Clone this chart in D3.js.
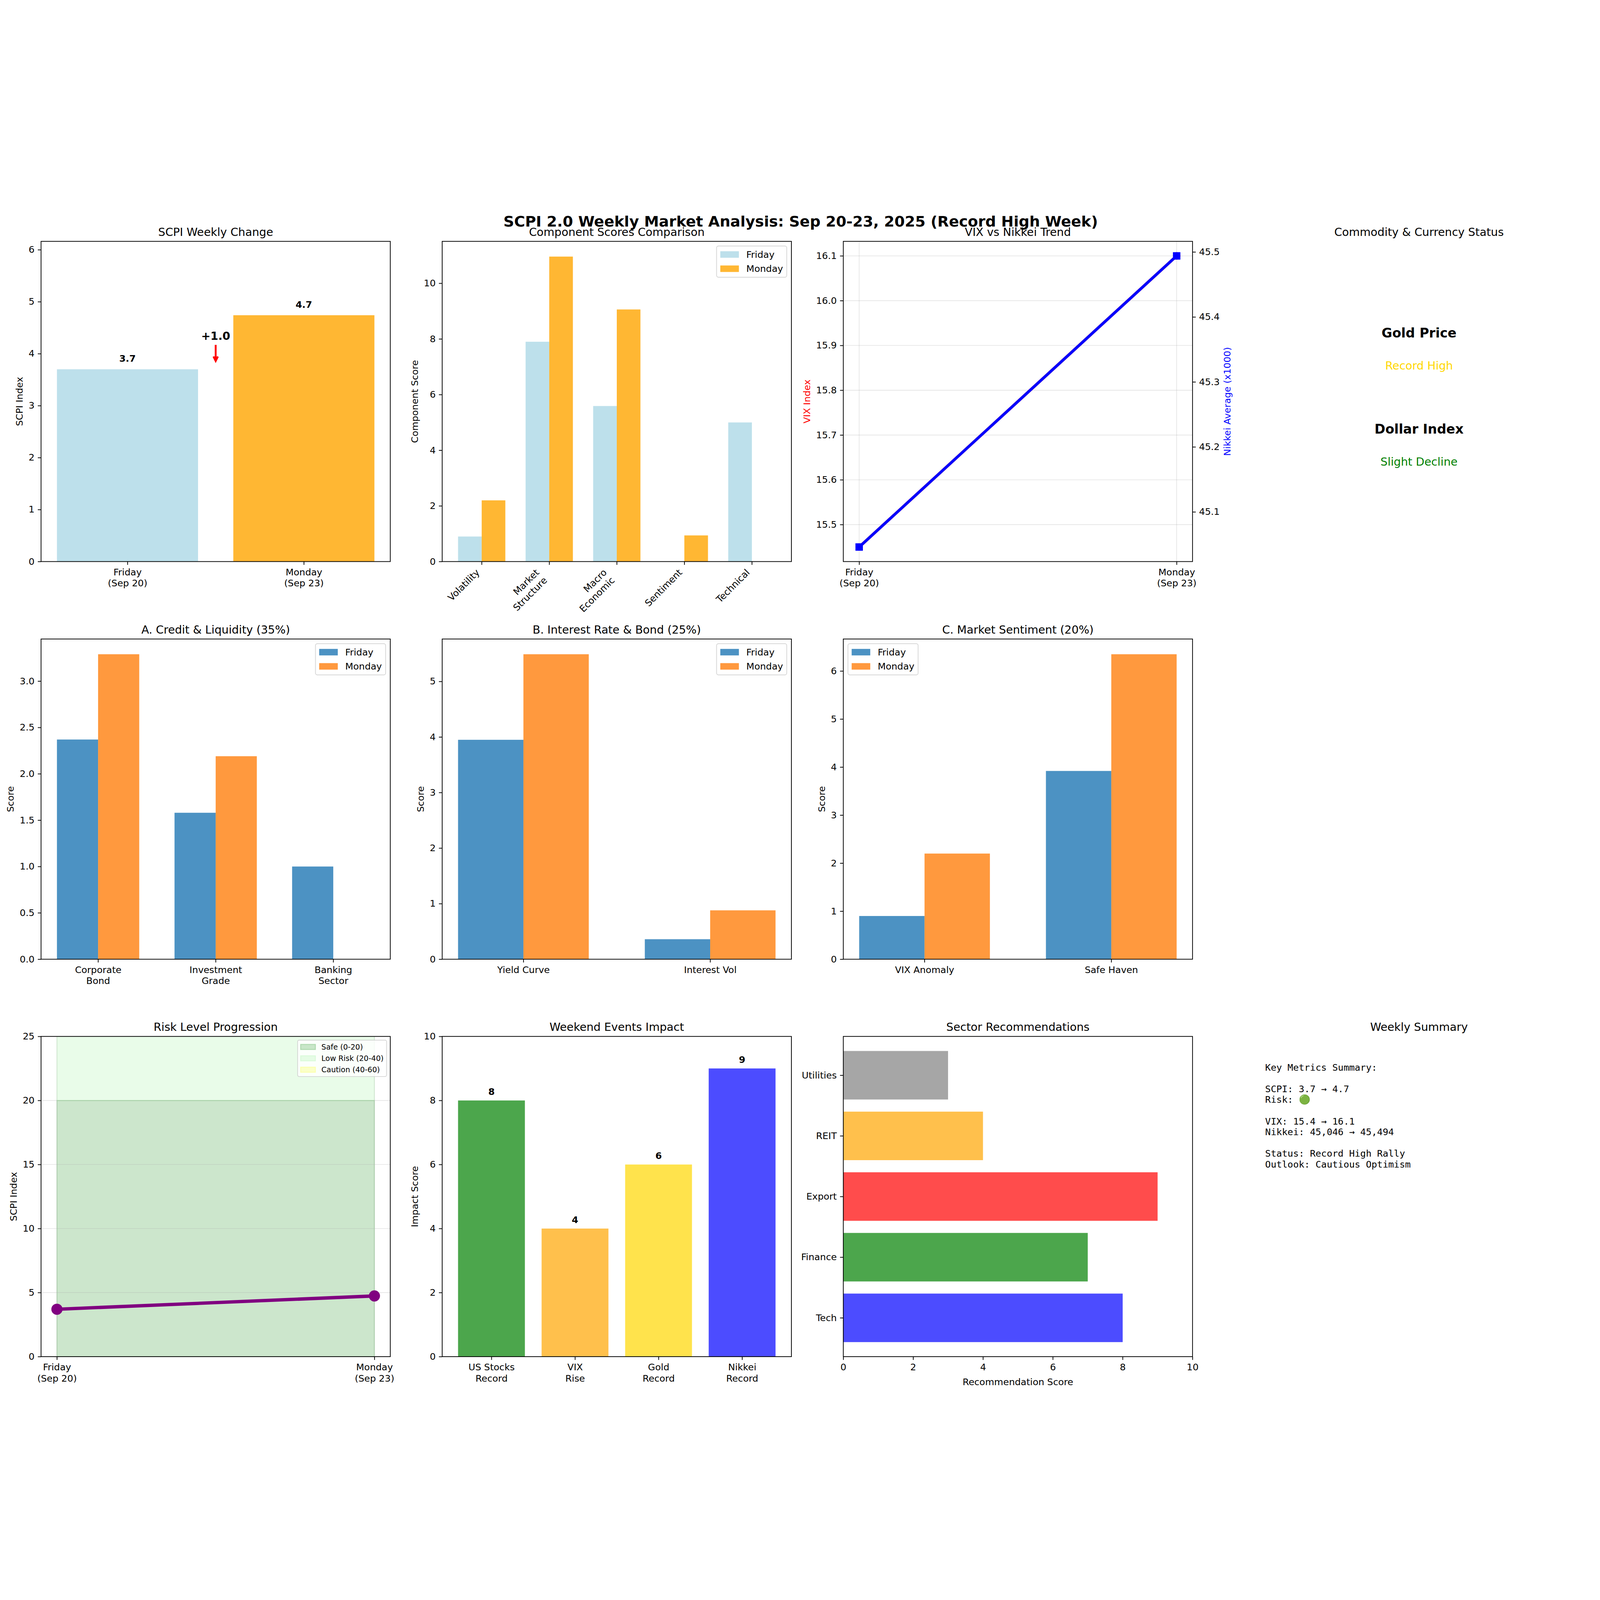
<!DOCTYPE html>
<html>
<head>
<meta charset="utf-8">
<script src="https://cdn.jsdelivr.net/npm/d3@7"></script>
<style>
html, body { margin: 0; padding: 0; background: #fff; overflow: hidden; }
svg { display: block; width: 100vw; height: 100vh; }
</style>
</head>
<body>
<script>

// ---- data ----
var days = ["Friday\n(Sep 20)", "Monday\n(Sep 23)"];
var scpi = [3.70, 4.74];

var compNames = ["Volatility", "Market\nStructure", "Macro\nEconomic", "Sentiment", "Technical"];
var compFri = [0.90, 7.90, 5.59, 0, 5.00];
var compMon = [2.20, 10.96, 9.06, 0.94, 0];

var vix = [15.45, 16.10];
var nikkei = [45.046, 45.494];   // x1000

var creditNames = ["Corporate\nBond", "Investment\nGrade", "Banking\nSector"];
var creditFri = [2.37, 1.58, 1.00];
var creditMon = [3.29, 2.19, 0];

var rateNames = ["Yield Curve", "Interest Vol"];
var rateFri = [3.95, 0.36];
var rateMon = [5.49, 0.88];

var sentNames = ["VIX Anomaly", "Safe Haven"];
var sentFri = [0.90, 3.92];
var sentMon = [2.20, 6.35];

var zoneLabels = ["Safe (0-20)", "Low Risk (20-40)", "Caution (40-60)"];
var zoneLo = [0, 20, 40];
var zoneHi = [20, 40, 60];

var eventNames = ["US Stocks\nRecord", "VIX\nRise", "Gold\nRecord", "Nikkei\nRecord"];
var eventScores = [8, 4, 6, 9];

var sectorNames = ["Tech", "Finance", "Export", "REIT", "Utilities"];
var sectorScores = [8, 7, 9, 4, 3];

var statusItems = ["Gold Price", "Dollar Index"];
var statusValues = ["Record High", "Slight Decline"];

var summaryLines = [
  "Key Metrics Summary:", "",
  "SCPI: 3.7 \u2192 4.7", "Risk: \uD83D\uDFE2", "",
  "VIX: 15.4 \u2192 16.1", "Nikkei: 45,046 \u2192 45,494", "",
  "Status: Record High Rally", "Outlook: Cautious Optimism"
];

// ---- styles ----
var weekColors = ["lightblue", "orange"];
var pairColors = ["#1f77b4", "#ff7f0e"];
var zoneColors = ["green", "lightgreen", "yellow"];
var eventColors = ["green", "orange", "gold", "blue"];
var sectorColors = ["blue", "green", "red", "orange", "gray"];
var statusColors = ["gold", "green"];

// ---- layout (300 dpi, sizes in points converted) ----
var W = 7170, H = 5307;
var PT = 300 / 72;
var FS = 10 * PT;
var FONT = "DejaVu Sans, sans-serif";
var MONO = "DejaVu Sans Mono, monospace";
var TICK = 3.5 * PT, LW = 0.8 * PT;
var colLeft = [184, 1981.5, 3779, 5576.5];
var rowTop = [150, 1932, 3713];
var AW = 1565, AH = 1435;

var svg = d3.select("body").append("svg")
  .attr("viewBox", "0 0 " + W + " " + H)
  .attr("preserveAspectRatio", "xMidYMid meet")
  .style("font-family", FONT);
svg.append("rect").attr("width", W).attr("height", H).attr("fill", "#fff");
var defs = svg.append("defs");

svg.append("text")
  .attr("x", 3588).attr("y", 83)
  .attr("text-anchor", "middle")
  .attr("font-size", 16 * PT).attr("font-weight", "bold")
  .text("SCPI 2.0 Weekly Market Analysis: Sep 20-23, 2025 (Record High Week)");

function makeAxes(c, r, title, id) {
  var g = svg.append("g").attr("transform", "translate(" + colLeft[c] + "," + rowTop[r] + ")");
  defs.append("clipPath").attr("id", id)
    .append("rect").attr("width", AW).attr("height", AH);
  var plot = g.append("g").attr("clip-path", "url(#" + id + ")");
  g.append("text")
    .attr("x", AW / 2).attr("y", -6 * PT)
    .attr("text-anchor", "middle")
    .attr("font-size", 12 * PT)
    .text(title);
  return {g: g, plot: plot};
}

function spines(ax) {
  ax.g.append("rect")
    .attr("width", AW).attr("height", AH)
    .attr("fill", "none").attr("stroke", "#000").attr("stroke-width", LW);
}

function styleAxis(a) {
  a.attr("font-family", FONT).attr("font-size", FS);
  a.select(".domain").remove();
  a.selectAll(".tick line").attr("stroke", "#000").attr("stroke-width", LW);
  a.selectAll(".tick text").attr("fill", "#000");
}

function splitLines(node) {
  var t = d3.select(node);
  var lines = t.text().split("\n");
  t.text("").attr("dy", null);
  lines.forEach(function(l, k) {
    t.append("tspan").attr("x", 0).attr("dy", k === 0 ? "0.78em" : "1.2em").text(l);
  });
}

function xAxis(ax, scale, vals, fmt) {
  var a = ax.g.append("g").attr("transform", "translate(0," + AH + ")");
  a.call(d3.axisBottom(scale).tickValues(vals).tickSize(TICK).tickPadding(TICK).tickFormat(fmt));
  styleAxis(a);
  a.selectAll(".tick text").each(function() { splitLines(this); });
  return a;
}

function yAxis(ax, scale, vals, fmt, right) {
  var a = ax.g.append("g");
  if (right) a.attr("transform", "translate(" + AW + ",0)");
  var gen = right ? d3.axisRight(scale) : d3.axisLeft(scale);
  a.call(gen.tickValues(vals).tickSize(TICK).tickPadding(TICK).tickFormat(fmt));
  styleAxis(a);
  return a;
}

function yLabel(ax, axisG, text, color, right) {
  var w = 0;
  axisG.selectAll(".tick text").each(function() { w = Math.max(w, this.getComputedTextLength()); });
  var off = 2 * TICK + w + 4 * PT;
  var x = right ? AW + off + 0.76 * FS : -(off + 0.24 * FS);
  ax.g.append("text")
    .attr("transform", "translate(" + x + "," + (AH / 2) + ") rotate(-90)")
    .attr("text-anchor", "middle")
    .attr("font-size", FS)
    .attr("fill", color || "#000")
    .text(text);
}

function xLabel(ax, text) {
  ax.g.append("text")
    .attr("x", AW / 2)
    .attr("y", AH + 2 * TICK + 1.17 * FS + 4 * PT + 0.78 * FS)
    .attr("text-anchor", "middle")
    .attr("font-size", FS)
    .text(text);
}

function grid(ax, x, xv, y, yv) {
  var gg = ax.plot.append("g")
    .attr("stroke", "#b0b0b0").attr("stroke-opacity", 0.3).attr("stroke-width", LW);
  gg.selectAll(".gx").data(xv).join("line")
    .attr("x1", function(d) { return x(d); }).attr("x2", function(d) { return x(d); })
    .attr("y1", 0).attr("y2", AH);
  gg.selectAll(".gy").data(yv).join("line")
    .attr("y1", function(d) { return y(d); }).attr("y2", function(d) { return y(d); })
    .attr("x1", 0).attr("x2", AW);
}

// items: {label, fill, op, edge}
function legend(ax, items, loc, fsz) {
  var bp = 0.4 * fsz, pad = 0.5 * fsz, hl = 2 * fsz, htp = 0.8 * fsz, ls = 0.5 * fsz, rowH = 1.03 * fsz;
  var lg = ax.g.append("g");
  var frame = lg.append("rect");
  var texts = [];
  items.forEach(function(it, i) {
    var cy = bp + i * (rowH + ls) + rowH / 2;
    var r = lg.append("rect")
      .attr("x", bp).attr("y", cy - 0.35 * fsz)
      .attr("width", hl).attr("height", 0.7 * fsz)
      .attr("fill", it.fill).attr("fill-opacity", it.op);
    if (it.edge) r.attr("stroke", it.fill).attr("stroke-opacity", it.op).attr("stroke-width", PT);
    texts.push(lg.append("text")
      .attr("x", bp + hl + htp).attr("y", cy + 0.36 * fsz)
      .attr("font-size", fsz).text(it.label));
  });
  var tw = d3.max(texts, function(t) { return t.node().getComputedTextLength(); });
  var bw = 2 * bp + hl + htp + tw;
  var bh = 2 * bp + items.length * rowH + (items.length - 1) * ls;
  frame.attr("width", bw).attr("height", bh)
    .attr("rx", 0.2 * fsz).attr("ry", 0.2 * fsz)
    .attr("fill", "#fff").attr("fill-opacity", 0.8)
    .attr("stroke", "#cccccc").attr("stroke-opacity", 0.8).attr("stroke-width", LW);
  var lx = loc === "left" ? pad : AW - pad - bw;
  lg.attr("transform", "translate(" + lx + "," + pad + ")");
}

function pairItems(colors) {
  return [{label: "Friday", fill: colors[0], op: 0.8}, {label: "Monday", fill: colors[1], op: 0.8}];
}

// grouped Friday/Monday bars, width 0.35, matplotlib-style 5% margins
function grouped(ax, n, fri, mon, colors) {
  var bw = 0.35;
  var lo = -bw, hi = n - 1 + bw, m = (hi - lo) * 0.05;
  var x = d3.scaleLinear().domain([lo - m, hi + m]).range([0, AW]);
  var y = d3.scaleLinear().domain([0, d3.max(fri.concat(mon)) * 1.05]).range([AH, 0]);
  [fri, mon].forEach(function(vals, s) {
    ax.plot.append("g").selectAll("rect").data(vals).join("rect")
      .attr("x", function(d, i) { return x(i + (s === 0 ? -bw : 0)); })
      .attr("width", x(bw) - x(0))
      .attr("y", function(d) { return y(d); })
      .attr("height", function(d) { return AH - y(d); })
      .attr("fill", colors[s]).attr("fill-opacity", 0.8);
  });
  return {x: x, y: y};
}

function nameFmt(names) { return function(d) { return names[d]; }; }

// ================= Row 1 =================

// SCPI Weekly Change
(function() {
  var ax = makeAxes(0, 0, "SCPI Weekly Change", "c1");
  var m = 1.8 * 0.05;
  var x = d3.scaleLinear().domain([-0.4 - m, 1.4 + m]).range([0, AW]);
  var y = d3.scaleLinear().domain([0, d3.max(scpi) * 1.3]).range([AH, 0]);
  ax.plot.selectAll("rect").data(scpi).join("rect")
    .attr("x", function(d, i) { return x(i - 0.4); })
    .attr("width", x(0.4) - x(-0.4))
    .attr("y", function(d) { return y(d); })
    .attr("height", function(d) { return AH - y(d); })
    .attr("fill", function(d, i) { return weekColors[i]; })
    .attr("fill-opacity", 0.8);
  ax.g.selectAll(".vlab").data(scpi).join("text")
    .attr("x", function(d, i) { return x(i); })
    .attr("y", function(d) { return y(d + 0.1) - 0.24 * FS; })
    .attr("text-anchor", "middle").attr("font-size", FS).attr("font-weight", "bold")
    .text(function(d) { return d.toFixed(1); });

  // change annotation
  var change = scpi[1] - scpi[0];
  var mid = (scpi[0] + scpi[1]) / 2;
  ax.g.append("text")
    .attr("x", x(0.5)).attr("y", y(mid + 0.05))
    .attr("text-anchor", "middle").attr("font-size", 12 * PT).attr("font-weight", "bold")
    .text("+" + change.toFixed(1));
  var tipY = y(mid - 0.36), tailY = y(mid - 0.05), ax5 = x(0.5);
  ax.g.append("line")
    .attr("x1", ax5).attr("x2", ax5).attr("y1", tailY).attr("y2", tipY - 2)
    .attr("stroke", "red").attr("stroke-width", 2 * PT);
  ax.g.append("path")
    .attr("d", "M" + (ax5 - 10) + "," + (tipY - 20) + "L" + ax5 + "," + tipY + "L" + (ax5 + 10) + "," + (tipY - 20))
    .attr("fill", "none").attr("stroke", "red").attr("stroke-width", 2 * PT)
    .attr("stroke-linejoin", "miter");

  spines(ax);
  xAxis(ax, x, [0, 1], nameFmt(days));
  var ya = yAxis(ax, y, d3.range(0, 7), d3.format("d"));
  yLabel(ax, ya, "SCPI Index");
})();

// Component Scores Comparison
(function() {
  var ax = makeAxes(1, 0, "Component Scores Comparison", "c2");
  var s = grouped(ax, compNames.length, compFri, compMon, weekColors);
  spines(ax);
  var a = ax.g.append("g").attr("transform", "translate(0," + AH + ")");
  a.call(d3.axisBottom(s.x).tickValues(d3.range(compNames.length)).tickSize(TICK).tickFormat(function() { return ""; }));
  styleAxis(a);
  var asc = 0.76 * FS, desc = 0.24 * FS, lh = 1.2 * FS, c = Math.SQRT1_2;
  compNames.forEach(function(nm, i) {
    var lines = nm.split("\n");
    var tx = s.x(i) - c * ((lines.length - 1) * lh + desc);
    var ty = AH + 2 * TICK + c * asc;
    var t = ax.g.append("text")
      .attr("transform", "translate(" + tx + "," + ty + ") rotate(-45)")
      .attr("text-anchor", "end").attr("font-size", FS);
    lines.forEach(function(l, k) { t.append("tspan").attr("x", 0).attr("y", k * lh).text(l); });
  });
  var ya = yAxis(ax, s.y, d3.range(0, 11, 2), d3.format("d"));
  yLabel(ax, ya, "Component Score");
  legend(ax, pairItems(weekColors), "right", FS);
})();

// VIX vs Nikkei Trend
(function() {
  var ax = makeAxes(2, 0, "VIX vs Nikkei Trend", "c3");
  var x = d3.scaleLinear().domain([-0.05, 1.05]).range([0, AW]);
  var vm = (vix[1] - vix[0]) * 0.05, nm = (nikkei[1] - nikkei[0]) * 0.05;
  var y1 = d3.scaleLinear().domain([d3.min(vix) - vm, d3.max(vix) + vm]).range([AH, 0]);
  var y2 = d3.scaleLinear().domain([d3.min(nikkei) - nm, d3.max(nikkei) + nm]).range([AH, 0]);
  var vixTicks = [15.5, 15.6, 15.7, 15.8, 15.9, 16.0, 16.1];
  var nkTicks = [45.1, 45.2, 45.3, 45.4, 45.5];
  grid(ax, x, [0, 1], y1, vixTicks);

  var l1 = d3.line().x(function(d, i) { return x(i); }).y(function(d) { return y1(d); });
  ax.g.append("path").attr("d", l1(vix)).attr("fill", "none")
    .attr("stroke", "red").attr("stroke-width", 3 * PT);
  ax.g.selectAll(".vm").data(vix).join("circle")
    .attr("cx", function(d, i) { return x(i); }).attr("cy", function(d) { return y1(d); })
    .attr("r", 4 * PT).attr("fill", "red");

  var l2 = d3.line().x(function(d, i) { return x(i); }).y(function(d) { return y2(d); });
  ax.g.append("path").attr("d", l2(nikkei)).attr("fill", "none")
    .attr("stroke", "blue").attr("stroke-width", 3 * PT);
  ax.g.selectAll(".nm").data(nikkei).join("rect")
    .attr("x", function(d, i) { return x(i) - 4 * PT; })
    .attr("y", function(d) { return y2(d) - 4 * PT; })
    .attr("width", 8 * PT).attr("height", 8 * PT).attr("fill", "blue");

  spines(ax);
  xAxis(ax, x, [0, 1], nameFmt(days));
  var ya = yAxis(ax, y1, vixTicks, d3.format(".1f"));
  yLabel(ax, ya, "VIX Index", "red");
  var yb = yAxis(ax, y2, nkTicks, d3.format(".1f"), true);
  yLabel(ax, yb, "Nikkei Average (x1000)", "blue", true);
})();

// Commodity & Currency Status
(function() {
  var ax = makeAxes(3, 0, "Commodity & Currency Status", "c4");
  var fy = [0.7, 0.4];
  statusItems.forEach(function(it, i) {
    ax.g.append("text")
      .attr("x", AW / 2).attr("y", AH * (1 - fy[i]))
      .attr("text-anchor", "middle").attr("font-size", 14 * PT).attr("font-weight", "bold")
      .text(it);
    ax.g.append("text")
      .attr("x", AW / 2).attr("y", AH * (1 - fy[i] + 0.1))
      .attr("text-anchor", "middle").attr("font-size", 12 * PT)
      .attr("fill", statusColors[i])
      .text(statusValues[i]);
  });
})();

// ================= Row 2 =================

function subPanel(c, title, id, names, fri, mon, ticks, fmt, loc) {
  var ax = makeAxes(c, 1, title, id);
  var s = grouped(ax, names.length, fri, mon, pairColors);
  spines(ax);
  xAxis(ax, s.x, d3.range(names.length), nameFmt(names));
  var ya = yAxis(ax, s.y, ticks, fmt);
  yLabel(ax, ya, "Score");
  legend(ax, pairItems(pairColors), loc, FS);
}

subPanel(0, "A. Credit & Liquidity (35%)", "c5", creditNames, creditFri, creditMon,
  [0, 0.5, 1.0, 1.5, 2.0, 2.5, 3.0], d3.format(".1f"), "right");
subPanel(1, "B. Interest Rate & Bond (25%)", "c6", rateNames, rateFri, rateMon,
  d3.range(0, 6), d3.format("d"), "right");
subPanel(2, "C. Market Sentiment (20%)", "c7", sentNames, sentFri, sentMon,
  d3.range(0, 7), d3.format("d"), "left");

// ================= Row 3 =================

// Risk Level Progression
(function() {
  var ax = makeAxes(0, 2, "Risk Level Progression", "c8");
  var x = d3.scaleLinear().domain([-0.05, 1.05]).range([0, AW]);
  var y = d3.scaleLinear().domain([0, 25]).range([AH, 0]);
  zoneLabels.forEach(function(lab, i) {
    ax.plot.append("rect")
      .attr("x", x(0)).attr("width", x(1) - x(0))
      .attr("y", y(zoneHi[i])).attr("height", y(zoneLo[i]) - y(zoneHi[i]))
      .attr("fill", zoneColors[i]).attr("fill-opacity", 0.2)
      .attr("stroke", zoneColors[i]).attr("stroke-opacity", 0.2).attr("stroke-width", PT);
  });
  grid(ax, x, [0, 1], y, [5, 10, 15, 20]);
  var line = d3.line().x(function(d, i) { return x(i); }).y(function(d) { return y(d); });
  ax.g.append("path").attr("d", line(scpi)).attr("fill", "none")
    .attr("stroke", "purple").attr("stroke-width", 3.6 * PT);
  ax.g.selectAll(".rm").data(scpi).join("circle")
    .attr("cx", function(d, i) { return x(i); }).attr("cy", function(d) { return y(d); })
    .attr("r", 6 * PT).attr("fill", "purple");
  spines(ax);
  xAxis(ax, x, [0, 1], nameFmt(days));
  var ya = yAxis(ax, y, d3.range(0, 26, 5), d3.format("d"));
  yLabel(ax, ya, "SCPI Index");
  legend(ax, zoneLabels.map(function(l, i) {
    return {label: l, fill: zoneColors[i], op: 0.2, edge: true};
  }), "right", 8 * PT);
})();

// Weekend Events Impact
(function() {
  var ax = makeAxes(1, 2, "Weekend Events Impact", "c9");
  var n = eventScores.length, m = (n - 1 + 0.8) * 0.05;
  var x = d3.scaleLinear().domain([-0.4 - m, n - 1 + 0.4 + m]).range([0, AW]);
  var y = d3.scaleLinear().domain([0, 10]).range([AH, 0]);
  ax.plot.selectAll("rect").data(eventScores).join("rect")
    .attr("x", function(d, i) { return x(i - 0.4); })
    .attr("width", x(0.4) - x(-0.4))
    .attr("y", function(d) { return y(d); })
    .attr("height", function(d) { return AH - y(d); })
    .attr("fill", function(d, i) { return eventColors[i]; })
    .attr("fill-opacity", 0.7);
  ax.g.selectAll(".elab").data(eventScores).join("text")
    .attr("x", function(d, i) { return x(i); })
    .attr("y", function(d) { return y(d + 0.1) - 0.24 * FS; })
    .attr("text-anchor", "middle").attr("font-size", FS).attr("font-weight", "bold")
    .text(function(d) { return d; });
  spines(ax);
  xAxis(ax, x, d3.range(n), nameFmt(eventNames));
  var ya = yAxis(ax, y, d3.range(0, 11, 2), d3.format("d"));
  yLabel(ax, ya, "Impact Score");
})();

// Sector Recommendations
(function() {
  var ax = makeAxes(2, 2, "Sector Recommendations", "c10");
  var n = sectorScores.length, m = (n - 1 + 0.8) * 0.05;
  var x = d3.scaleLinear().domain([0, 10]).range([0, AW]);
  var y = d3.scaleLinear().domain([-0.4 - m, n - 1 + 0.4 + m]).range([AH, 0]);
  ax.plot.selectAll("rect").data(sectorScores).join("rect")
    .attr("x", x(0))
    .attr("width", function(d) { return x(d) - x(0); })
    .attr("y", function(d, i) { return y(i + 0.4); })
    .attr("height", y(0) - y(0.8))
    .attr("fill", function(d, i) { return sectorColors[i]; })
    .attr("fill-opacity", 0.7);
  spines(ax);
  xAxis(ax, x, d3.range(0, 11, 2), d3.format("d"));
  yAxis(ax, y, d3.range(n), nameFmt(sectorNames));
  xLabel(ax, "Recommendation Score");
})();

// Weekly Summary
(function() {
  var ax = makeAxes(3, 2, "Weekly Summary", "c11");
  var t = ax.g.append("text")
    .attr("font-family", MONO).attr("font-size", FS);
  summaryLines.forEach(function(l, k) {
    t.append("tspan").attr("x", 93).attr("y", 153 + k * 48.3).text(l === "" ? "\u00a0" : l);
  });
})();

</script>
</body>
</html>
